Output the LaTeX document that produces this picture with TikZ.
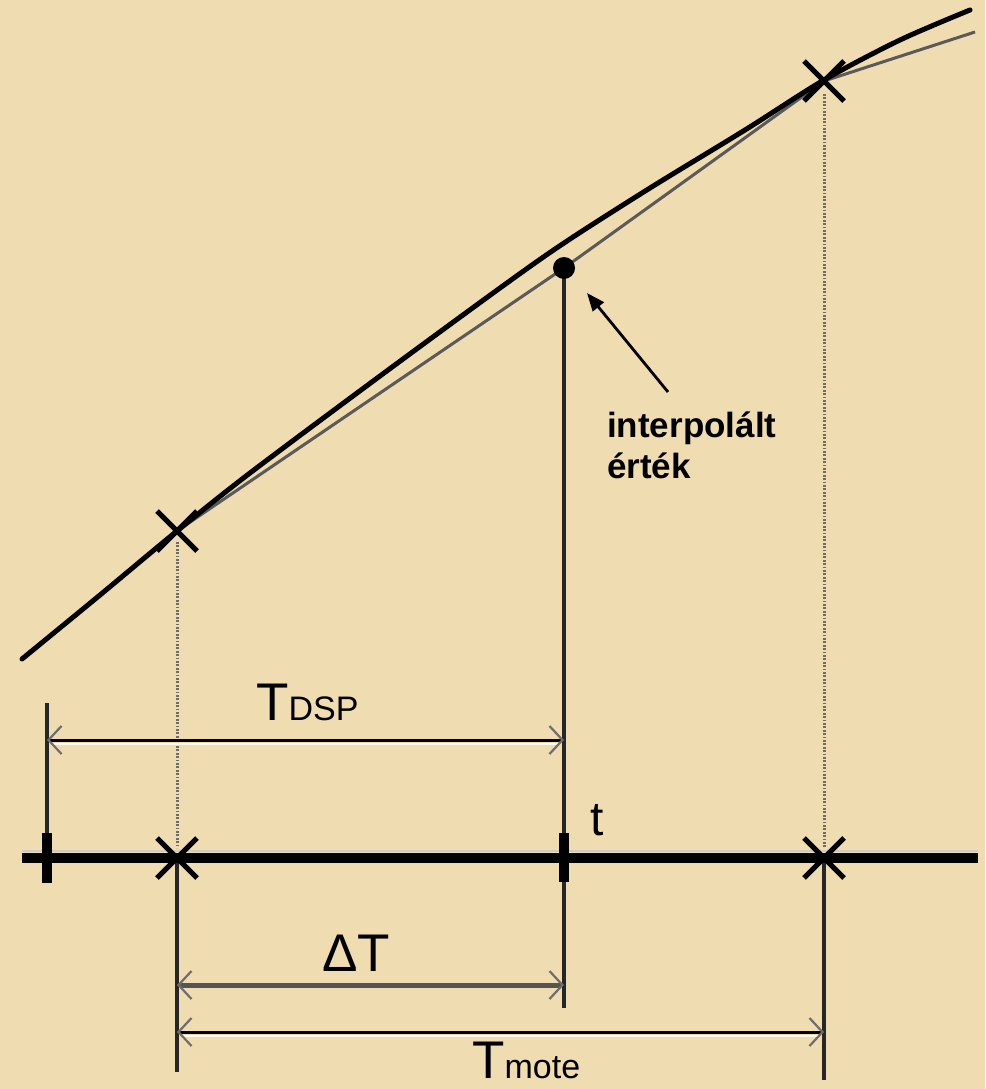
\documentclass[tikz,border=0pt]{standalone}
\usepackage{fontspec}
\setmainfont{Liberation Sans}
\usetikzlibrary{arrows.meta,calc}
\definecolor{paper}{RGB}{239,220,176}
\definecolor{chord}{RGB}{90,90,90}
\definecolor{dimgray}{RGB}{85,85,85}
\definecolor{barb}{RGB}{110,110,110}
\begin{document}
\begin{tikzpicture}[x=1pt,y=-1pt,
  xmark/.style={line width=5pt},
  dotline/.style={line width=3pt,color=gray!85!black,dash pattern=on 1.8pt off 1.6pt},
  vline/.style={line width=3.2pt,color=black!85},
  hilite/.style={line width=2pt,color=white!85!paper},
  dimarrow/.style={{Straight Barb[length=13pt,width=28pt,color=barb,line width=2.2pt]}-{Straight Barb[length=13pt,width=28pt,color=barb,line width=2.2pt]}},
  lbl/.style={inner sep=0pt,anchor=base west},
]
\fill[paper] (0,0) rectangle (985,1089);
\useasboundingbox (0,0) rectangle (985,1089);

% named points
\coordinate (pA) at (177,531);
\coordinate (pB) at (824,81);
\coordinate (pC) at (975,32);
\coordinate (dotp) at (564,268);
\coordinate (ax0) at (22,858);
\coordinate (ax1) at (978,858);
\coordinate (xA) at (177,858);
\coordinate (xB) at (824,858);
\coordinate (xt) at (564,858);
\coordinate (x0) at (47,858);

% dotted projections
\draw[dotline] (177,542) -- (177,848);
\draw[dotline] (824,94) -- (824,848);

% vertical reference lines
\draw[vline] (47,703) -- (x0);
\draw[vline] (dotp) -- (564,1008);
\draw[vline] (xA) -- (177,1072);
\draw[vline] (xB) -- (824,1080);

% time axis
\draw[line width=2pt,color=gray!40] (22,851) -- (978,851);
\draw[line width=10pt,line cap=butt] (ax0) -- (ax1);
\draw[line width=10pt] (47,833) -- (47,883);
\draw[line width=10pt] (564,833) -- (564,882);

% crosses on axis
\draw[xmark] ($(xA)+(-20,-20)$) -- ($(xA)+(20,20)$) ($(xA)+(-20,20)$) -- ($(xA)+(20,-20)$);
\draw[xmark] ($(xB)+(-20,-20)$) -- ($(xB)+(20,20)$) ($(xB)+(-20,20)$) -- ($(xB)+(20,-20)$);

% interpolation chord
\draw[line width=3pt,color=chord] (pA) -- (dotp) -- (pB) -- (pC);

% real curve
\draw[line width=5pt,line cap=round] plot[smooth] coordinates {(22,659) (100,595) (177,531) (250,473) (380,376) (500,288) (564,243) (650,188) (745,130) (824,80) (900,40) (970,10)};

% crosses on curve
\draw[xmark] ($(pA)+(-20,-20)$) -- ($(pA)+(20,20)$) ($(pA)+(-20,20)$) -- ($(pA)+(20,-20)$);
\draw[xmark] ($(pB)+(-20,-20)$) -- ($(pB)+(20,20)$) ($(pB)+(-20,20)$) -- ($(pB)+(20,-20)$);

% interpolated point
\fill (dotp) circle (11);

% dimension lines
\draw[hilite] (52,744) -- (560,744);
\draw[dimarrow,line width=3pt] (47,740) -- (564,740);
\draw[dimarrow,line width=5pt,color=dimgray] (177,985) -- (564,985);
\draw[hilite] (182,1036) -- (820,1036);
\draw[dimarrow,line width=3pt] (177,1032) -- (824,1032);

% labels
\node[lbl] (tdsp) at (256,720) {\fontsize{53}{53}\selectfont T\fontsize{34}{34}\selectfont DSP};
\node[lbl] (dt) at (322,971) {\fontsize{53}{53}\selectfont ΔT};
\node[lbl] (tmote) at (472,1078) {\fontsize{53}{53}\selectfont T\fontsize{34}{34}\selectfont mote};
\node[lbl] (tl) at (590,835) {\fontsize{48}{48}\selectfont t};
\node[lbl] (ip1) at (607,437) {\fontsize{35}{35}\selectfont\bfseries interpolált};
\node[lbl] (ip2) at (607,478) {\fontsize{35}{35}\selectfont\bfseries érték};

% pointer arrow
\coordinate (ptail) at (668,392);
\coordinate (ptip) at (587,293);
\draw[line width=2.8pt,-{Triangle[length=18pt,width=14pt]}] (ptail) -- (ptip);
\end{tikzpicture}
\end{document}
